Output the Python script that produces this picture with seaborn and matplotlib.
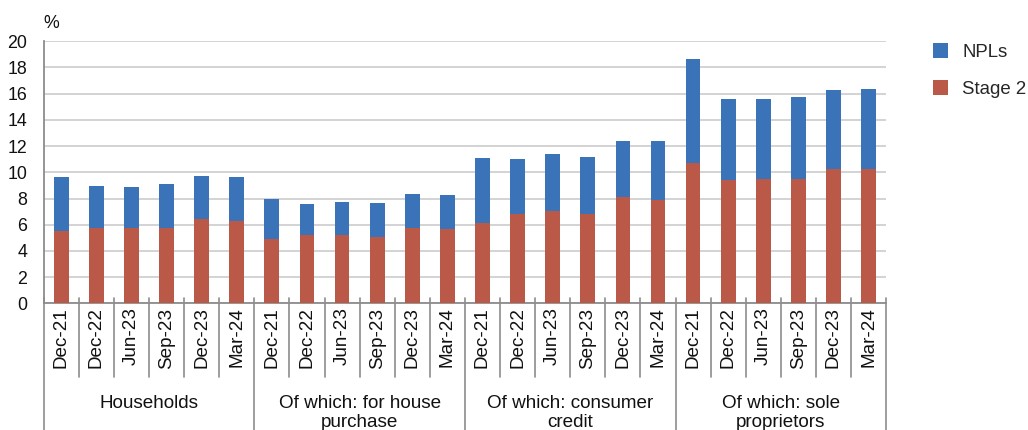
import numpy as np
import pandas as pd
import matplotlib
matplotlib.use("Agg")
import matplotlib.pyplot as plt
import matplotlib.transforms as mtransforms
from matplotlib.patches import Patch
import seaborn as sns

# ---- data ----
groups = ["Households", "Of which: for house\npurchase",
          "Of which: consumer\ncredit", "Of which: sole\nproprietors"]
periods = ["Dec-21", "Dec-22", "Jun-23", "Sep-23", "Dec-23", "Mar-24"]
stage2 = [5.55, 5.78, 5.73, 5.73, 6.41, 6.28,
          4.89, 5.24, 5.19, 5.04, 5.75, 5.65,
          6.11, 6.79, 7.02, 6.79, 8.12, 7.91,
          10.69, 9.39, 9.47, 9.52, 10.23, 10.23]
npls = [4.12, 3.15, 3.18, 3.35, 3.31, 3.34,
        3.05, 2.37, 2.52, 2.62, 2.62, 2.65,
        4.96, 4.23, 4.40, 4.36, 4.30, 4.48,
        7.99, 6.23, 6.15, 6.23, 6.08, 6.16]
yticks = list(range(0, 21, 2))

BLUE = "#3A73B8"
RED = "#BA5947"
GRID = "#C8C8C8"
AXC = "#8C8C8C"
TXT = "#111111"

n_per = len(periods)
n = len(stage2)
df = pd.DataFrame({
    "pos": list(range(n)),
    "period": periods * len(groups),
    "stage2": stage2,
    "npls": npls,
})
df["total"] = df["stage2"] + df["npls"]

sns.set_theme(style="white")
plt.rcParams["font.family"] = ["Liberation Sans", "DejaVu Sans"]

fig = plt.figure(figsize=(10.28, 4.30), dpi=100)
ax = fig.add_axes([0.0425, 0.2946, 0.8195, 0.6094])

sns.barplot(data=df, x="pos", y="total", color=BLUE, width=0.42,
            saturation=1, ax=ax, zorder=3, edgecolor="none")
sns.barplot(data=df, x="pos", y="stage2", color=RED, width=0.42,
            saturation=1, ax=ax, zorder=4, edgecolor="none")

ax.set_xlim(-0.5, n - 0.5)
ax.set_ylim(0, 20)
ax.set_yticks(yticks)
ax.set_yticklabels([str(v) for v in yticks], fontsize=12.8, color=TXT)
ax.yaxis.grid(True, color=GRID, linewidth=1.1, zorder=0)
ax.set_axisbelow(True)
ax.tick_params(axis="y", direction="in", length=5, width=1, color=AXC, pad=12)
ax.set_xlabel("")
ax.set_ylabel("")

ax.set_xticks(range(n))
ax.set_xticklabels(df["period"], rotation=90, fontsize=13.6, color=TXT,
                   va="top", ha="center")
ax.tick_params(axis="x", length=0, pad=3)

for s in ["top", "right"]:
    ax.spines[s].set_visible(False)
for s in ["left", "bottom"]:
    ax.spines[s].set_color(AXC)
    ax.spines[s].set_linewidth(1.3)

trans = mtransforms.blended_transform_factory(ax.transData, ax.transAxes)
for k in range(n + 1):
    b = k - 0.5
    if k % n_per == 0:
        y0 = -0.49
    else:
        y0 = -0.282
    ax.plot([b, b], [y0, 0.02], transform=trans, color=AXC, lw=1.2,
            clip_on=False, zorder=1)

for gi, g in enumerate(groups):
    cx = gi * n_per + (n_per - 1) / 2
    ax.text(cx, -0.350, g, transform=trans, ha="center", va="top",
            fontsize=13.6, color=TXT, linespacing=1.15, clip_on=False)

ax.text(0.0, 1.035, "%", transform=ax.transAxes, ha="left", va="bottom",
        fontsize=12.8, color=TXT)

handles = [Patch(facecolor=BLUE, edgecolor="none", label="NPLs"),
           Patch(facecolor=RED, edgecolor="none", label="Stage 2")]
fig.legend(handles=handles, loc="upper left", bbox_to_anchor=(0.9, 0.918),
           frameon=False, fontsize=13.4, handlelength=0.85, handleheight=0.85,
           handletextpad=0.75, labelspacing=1.05, borderaxespad=0)

fig.savefig("out.png", dpi=100)
